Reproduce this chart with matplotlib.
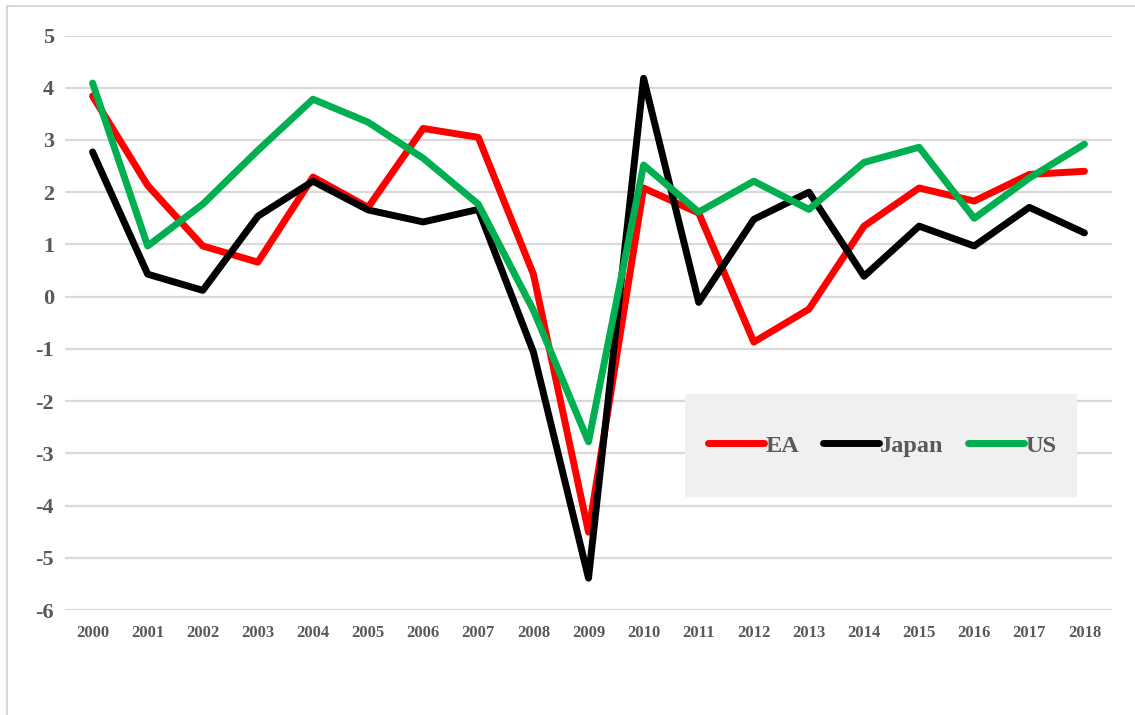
import matplotlib
matplotlib.use("Agg")
import matplotlib.pyplot as plt
from matplotlib.patches import Rectangle
from matplotlib.lines import Line2D

years = ["2000", "2001", "2002", "2003", "2004", "2005", "2006", "2007", "2008", "2009",
         "2010", "2011", "2012", "2013", "2014", "2015", "2016", "2017", "2018"]
ea = [3.84, 2.13, 0.97, 0.66, 2.29, 1.71, 3.22, 3.05, 0.43, -4.51,
      2.08, 1.60, -0.87, -0.24, 1.35, 2.08, 1.83, 2.34, 2.40]
japan = [2.77, 0.43, 0.12, 1.54, 2.21, 1.66, 1.43, 1.67, -1.06, -5.39,
         4.18, -0.11, 1.48, 2.00, 0.39, 1.35, 0.97, 1.71, 1.22]
us = [4.09, 0.97, 1.77, 2.80, 3.78, 3.34, 2.65, 1.77, -0.26, -2.78,
      2.52, 1.62, 2.21, 1.67, 2.57, 2.86, 1.50, 2.27, 2.92]
yticks = [5, 4, 3, 2, 1, 0, -1, -2, -3, -4, -5, -6]

txt = "#595959"
plt.rcParams["font.family"] = ["Liberation Serif", "DejaVu Serif"]
plt.rcParams["font.weight"] = "bold"

fig = plt.figure(figsize=(11.35, 7.15), dpi=100)
W, H = 1135, 715
ax = fig.add_axes([65 / W, 1 - 610 / H, (1112 - 65) / W, (610 - 35.5) / H])

x = list(range(len(years)))
ax.plot(x, ea, color="#FF0000", lw=5, solid_capstyle="round", solid_joinstyle="round", label="EA", zorder=4)
ax.plot(x, japan, color="#000000", lw=5, solid_capstyle="round", solid_joinstyle="round", label="Japan", zorder=4)
ax.plot(x, us, color="#00B050", lw=5, solid_capstyle="round", solid_joinstyle="round", label="US", zorder=4)

ax.set_xlim(-0.5, len(years) - 0.5)
ax.set_ylim(-6, 5)
ax.set_yticks(yticks)
ax.set_yticklabels([str(v) for v in yticks])
ax.set_xticks(x)
ax.set_xticklabels(years)
ax.grid(axis="y", color="#D9D9D9", lw=1.6, zorder=0)
ax.set_axisbelow(True)
for s in ax.spines.values():
    s.set_visible(False)
ax.tick_params(axis="y", length=0, pad=8, labelsize=16, labelcolor=txt)
ax.tick_params(axis="x", length=0, pad=11, labelsize=12, labelcolor=txt)
for lab in ax.get_xticklabels() + ax.get_yticklabels():
    lab.set_fontweight("bold")

# legend background
x0 = (685 - 65) / 1047
x1 = (1077 - 65) / 1047
y0 = (610 - 497) / 574.5
y1 = (610 - 394) / 574.5
ax.add_patch(Rectangle((x0, y0), x1 - x0, y1 - y0, transform=ax.transAxes,
                       facecolor="#F0F0F0", edgecolor="none", zorder=3))
leg = ax.legend(loc="center", bbox_to_anchor=((x0 + x1) / 2 + 0.001, (y0 + y1) / 2), ncol=3,
                frameon=False, fontsize=17.5, handlelength=2.3, handletextpad=0.05,
                columnspacing=1.0, labelcolor=txt)
leg.set_zorder(5)
for t in leg.get_texts():
    t.set_fontweight("bold")

# outer frame (left and top)
fig.add_artist(Line2D([7 / W, 7 / W], [0, 1 - 6 / H], transform=fig.transFigure, color="#D9D9D9", lw=1.5))
fig.add_artist(Line2D([7 / W, 1], [1 - 6 / H, 1 - 6 / H], transform=fig.transFigure, color="#D9D9D9", lw=1.5))

fig.savefig("out.png", dpi=100)
